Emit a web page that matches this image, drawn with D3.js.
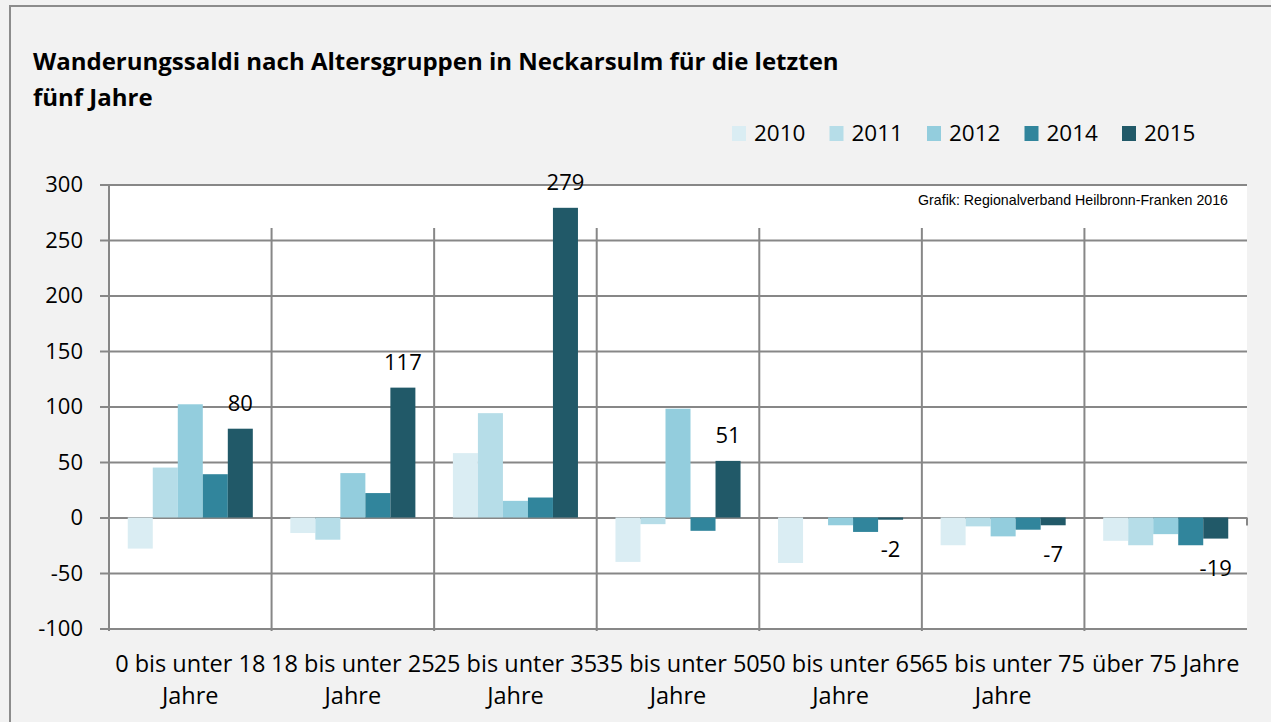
<!DOCTYPE html>
<html><head><meta charset="utf-8">
<script src="https://cdn.jsdelivr.net/npm/d3@7"></script>
<style>
body{margin:0;background:#f2f2f2;}
svg{display:block;font-family:"Open Sans",sans-serif;}
</style>
</head><body>
<svg id="chart" width="1271" height="722"></svg>
<script>
const categories = ["0 bis unter 18 Jahre","18 bis unter 25 Jahre","25 bis unter 35 Jahre","35 bis unter 50 Jahre","50 bis unter 65 Jahre","65 bis unter 75 Jahre","über 75 Jahre"];
const categoryLines = [["0 bis unter 18","Jahre"],["18 bis unter 25","Jahre"],["25 bis unter 35","Jahre"],["35 bis unter 50","Jahre"],["50 bis unter 65","Jahre"],["65 bis unter 75","Jahre"],["über 75 Jahre"]];
const years = ["2010","2011","2012","2014","2015"];
const v2010 = [-28,-14,58,-40,-41,-25,-21];
const v2011 = [45,-20,94,-6,0,-8,-25];
const v2012 = [102,40,15,98,-7,-17,-15];
const v2014 = [39,22,18,-12,-13,-11,-25];
const v2015 = [80,117,279,51,-2,-7,-19];
const yTicks = [-100,-50,0,50,100,150,200,250,300];
const colors = ["#daedf3","#b6dde8","#93cddd","#31859c","#215968"];
const titleLines = ["Wanderungssaldi nach Altersgruppen in Neckarsulm für die letzten","fünf Jahre"];
const credit = "Grafik: Regionalverband Heilbronn-Franken 2016";

const series = [v2010,v2011,v2012,v2014,v2015];
const svg = d3.select("#chart");
const W = 1271, H = 722;
const plot = {left:109, right:1247, top:184.5, bottom:628.5};
const grid = "#878787";

// outer frame
svg.append("rect").attr("x",10).attr("y",6).attr("width",W+20).attr("height",H+20)
  .attr("fill","#f2f2f2").attr("stroke","#8c8c8c").attr("stroke-width",2);

// title
svg.append("g").selectAll("text").data(titleLines).join("text")
  .attr("x",33).attr("y",(d,i)=>70+i*36)
  .attr("font-size",24).attr("font-weight","bold").attr("fill","#000").text(d=>d);

const y = d3.scaleLinear().domain([-100,300]).range([plot.bottom,plot.top]);
const x0 = d3.scaleBand().domain(categories).range([plot.left,plot.right]).padding(0);
const x1 = d3.scaleBand().domain(years).range([0,x0.bandwidth()]).paddingInner(0).paddingOuter(0.75);

// plot background
svg.append("rect").attr("x",plot.left).attr("y",plot.top)
  .attr("width",plot.right-plot.left).attr("height",plot.bottom-plot.top).attr("fill","#fff");

// credit
svg.append("text").attr("x",1228).attr("y",205).attr("text-anchor","end")
  .attr("font-family","'Liberation Sans',Arial,sans-serif").attr("font-size",14.2).attr("fill","#000").text(credit);

// y axis with gridlines
const yAxis = d3.axisLeft(y).tickValues(yTicks).tickFormat(d=>String(d))
  .tickSizeInner(-(plot.right-100)).tickSizeOuter(0).tickPadding(17);
const ga = svg.append("g").attr("transform","translate(100,0)").call(yAxis);
ga.select(".domain").remove();
ga.selectAll(".tick line").attr("stroke",grid).attr("stroke-width",2);
ga.selectAll(".tick text").attr("font-size",22).attr("font-family","'Open Sans',sans-serif").attr("fill","#000");

// vertical category separators
svg.append("g").selectAll("line").data(categories.slice(1)).join("line")
  .attr("x1",d=>x0(d)).attr("x2",d=>x0(d)).attr("y1",228).attr("y2",631)
  .attr("stroke",grid).attr("stroke-width",2);
svg.append("line").attr("x1",plot.right).attr("x2",plot.right).attr("y1",y(0)).attr("y2",y(0)+8)
  .attr("stroke",grid).attr("stroke-width",2);
// y axis line
svg.append("line").attr("x1",plot.left).attr("x2",plot.left).attr("y1",plot.top).attr("y2",631)
  .attr("stroke",grid).attr("stroke-width",2);

// bars
const groups = svg.append("g").selectAll("g").data(categories).join("g")
  .attr("transform",d=>`translate(${x0(d)},0)`);
groups.selectAll("rect").data((d,ci)=>years.map((yr,si)=>({yr,si,v:series[si][ci]}))).join("rect")
  .attr("x",d=>x1(d.yr)).attr("width",x1.bandwidth())
  .attr("y",d=>y(Math.max(0,d.v))).attr("height",d=>Math.abs(y(d.v)-y(0)))
  .attr("fill",d=>colors[d.si]);

// data labels for 2015
svg.append("g").selectAll("text").data(categories).join("text")
  .attr("x",(d,i)=>x0(d)+x1("2015")+x1.bandwidth()/2)
  .attr("y",(d,i)=>v2015[i]>=0 ? y(v2015[i])-18 : y(v2015[i])+37)
  .attr("text-anchor","middle").attr("font-size",22).attr("fill","#000")
  .text((d,i)=>String(v2015[i]));

// category labels
const cl = svg.append("g").selectAll("text").data(categories).join("text")
  .attr("text-anchor","middle").attr("font-size",23.5).attr("fill","#000");
cl.selectAll("tspan").data((d,i)=>categoryLines[i].map(t=>({t,x:x0(d)+x0.bandwidth()/2}))).join("tspan")
  .attr("x",d=>d.x).attr("y",(d,i)=>672+i*32).text(d=>d.t);

// legend
const lg = svg.append("g").selectAll("g").data(years).join("g")
  .attr("transform",(d,i)=>`translate(${732+i*97.5},126)`);
lg.append("rect").attr("width",14).attr("height",15).attr("fill",(d,i)=>colors[i]);
lg.append("text").attr("x",22).attr("y",15).attr("font-size",22.5).attr("fill","#000").text(d=>d);
</script>
</body></html>
